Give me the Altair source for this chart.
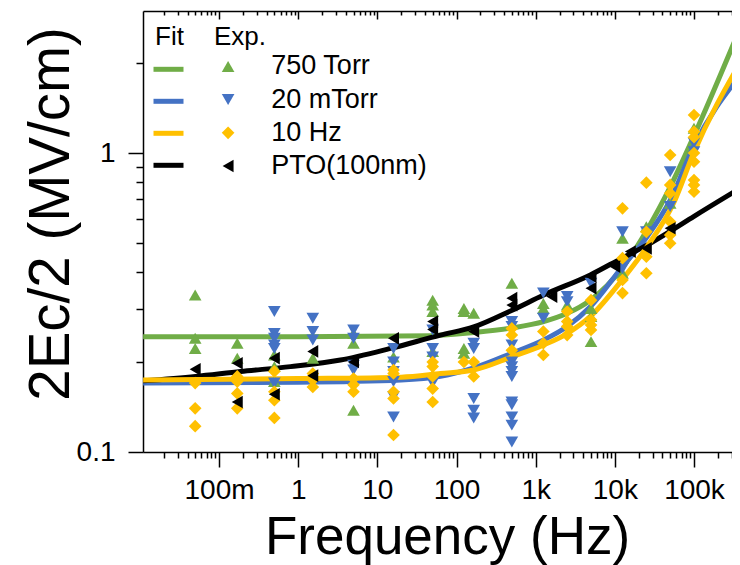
import altair as alt
import pandas as pd

FONT = "Liberation Sans"

SERIES = ["750 Torr", "20 mTorr", "10 Hz", "PTO(100nm)"]
COLORS = ["#70AD47", "#4472C4", "#FFC000", "#000000"]
SHAPES = ["triangle-up", "triangle-down", "diamond", "triangle-left"]

X_DOMAIN = [0.01096, 302000]
Y_DOMAIN = [0.1, 2.985]
X_MAJOR = [0.1, 1, 10, 100, 1000, 10000, 100000]
X_MINOR = [m * 10 ** k for k in range(-2, 6) for m in range(2, 10) if m * 10 ** k < 302000]
Y_MAJOR = [0.1, 1]
Y_MINOR = [0.2, 0.3, 0.4, 0.5, 0.6, 0.7, 0.8, 0.9, 2]

# ---- fit curves ----
fit_750_f = [0.011, 1, 50, 165, 500, 1260, 2500, 4900, 12300, 25500, 50300, 98900, 381000]
fit_750_v = [0.243, 0.243, 0.245, 0.251, 0.260, 0.273, 0.291, 0.322, 0.411, 0.553, 0.772, 1.134, 2.61]

fit_20m_f = [0.011, 1, 20, 62.6, 165, 500, 1260, 2500, 4900, 12300, 25500, 50300, 98900, 381000]
fit_20m_v = [0.170, 0.171, 0.174, 0.179, 0.191, 0.214, 0.237, 0.263, 0.306, 0.415, 0.525, 0.697, 1.05, 1.82]

fit_10hz_f = [0.011, 1, 20, 62.6, 165, 500, 1260, 2500, 4900, 12300, 25500, 55200, 98900, 381000]
fit_10hz_v = [0.174, 0.176, 0.178, 0.183, 0.188, 0.208, 0.228, 0.249, 0.284, 0.376, 0.486, 0.679, 1.0, 2.0]

fit_pto_f = [0.011, 0.0505, 0.187, 0.80, 3.42, 14.6, 62.6, 165, 503, 1260, 4900, 12300, 25500, 50300, 98900, 381000]
fit_pto_v = [0.173, 0.179, 0.186, 0.193, 0.203, 0.222, 0.246, 0.262, 0.298, 0.335, 0.391, 0.445, 0.492, 0.548, 0.613, 0.762]

# ---- experimental points: (frequency, values) ----
exp_750 = [
    (0.05, [0.335, 0.240, 0.222]),
    (0.17, [0.231, 0.206]),
    (0.5, [0.211, 0.193, 0.172]),
    (1.53, [0.206]),
    (5, [0.249, 0.231, 0.138]),
    (16, [0.208]),
    (50, [0.322, 0.310, 0.295, 0.217]),
    (124, [0.302, 0.295, 0.222, 0.214]),
    (165, [0.291]),
    (500, [0.367]),
    (1250, [0.314, 0.302]),
    (2500, [0.310]),
    (5000, [0.302, 0.284, 0.234]),
    (12500, [0.519, 0.396]),
    (25000, [0.567]),
    (50000, [0.679]),
    (100000, [1.21]),
]
exp_20m = [
    (0.5, [0.295, 0.249, 0.240, 0.228, 0.222, 0.170]),
    (1.53, [0.280, 0.253, 0.237]),
    (5, [0.256, 0.240, 0.195, 0.188]),
    (16, [0.222, 0.200, 0.186, 0.172, 0.153, 0.131]),
    (50, [0.256, 0.222, 0.208, 0.170]),
    (165, [0.231, 0.222, 0.151, 0.138, 0.130]),
    (500, [0.273, 0.263, 0.228, 0.200, 0.193, 0.186, 0.179, 0.147, 0.144, 0.131, 0.123, 0.108]),
    (1250, [0.340, 0.280]),
    (2500, [0.331, 0.318]),
    (5000, [0.367]),
    (12500, [0.545, 0.411]),
    (25000, [0.545]),
    (50000, [0.866, 0.662]),
    (100000, [1.08, 1.01]),
]
exp_10hz = [
    (0.05, [0.170, 0.140, 0.122]),
    (0.17, [0.179, 0.172, 0.157, 0.140]),
    (0.5, [0.186, 0.159, 0.149, 0.130]),
    (1.53, [0.183, 0.174, 0.165]),
    (5, [0.176, 0.168, 0.159]),
    (16, [0.188, 0.183, 0.159, 0.151, 0.114]),
    (50, [0.200, 0.193, 0.179, 0.163, 0.147]),
    (124, [0.200]),
    (165, [0.200, 0.179]),
    (500, [0.259, 0.246, 0.219]),
    (1250, [0.253, 0.231, 0.211]),
    (2500, [0.295, 0.273, 0.263, 0.246]),
    (5000, [0.322, 0.277, 0.266, 0.256]),
    (12500, [0.653, 0.445, 0.376, 0.340]),
    (25000, [0.796, 0.545, 0.450, 0.396]),
    (50000, [0.985, 0.782, 0.733, 0.589, 0.532, 0.499]),
    (100000, [1.34, 1.18, 1.13, 1.0, 0.935, 0.812, 0.782, 0.742]),
]
exp_pto = [
    (0.05, [0.189]),
    (0.17, [0.198, 0.147]),
    (0.5, [0.206, 0.156]),
    (1.53, [0.217, 0.180]),
    (5, [0.200]),
    (16, [0.240]),
    (50, [0.273, 0.257]),
    (165, [0.253]),
    (500, [0.327, 0.310]),
    (1600, [0.331]),
    (5000, [0.386, 0.353]),
    (10000, [0.417]),
    (15700, [0.468]),
    (25000, [0.480]),
    (50000, [0.560]),
]

# ---- tables ----
fit_rows = []
for name, fs, vs in [("750 Torr", fit_750_f, fit_750_v), ("20 mTorr", fit_20m_f, fit_20m_v),
                     ("PTO(100nm)", fit_pto_f, fit_pto_v), ("10 Hz", fit_10hz_f, fit_10hz_v)]:
    for f, v in zip(fs, vs):
        fit_rows.append({"freq": f, "val": v, "series": name})
fit_df = pd.DataFrame(fit_rows)

exp_rows = []
for name, groups in [("750 Torr", exp_750), ("20 mTorr", exp_20m), ("10 Hz", exp_10hz), ("PTO(100nm)", exp_pto)]:
    for f, vals in groups:
        for v in vals:
            exp_rows.append({"freq": f, "val": v, "series": name})
exp_df = pd.DataFrame(exp_rows)

W, H = 589, 441
xs = alt.Scale(type="log", domain=X_DOMAIN, nice=False)
ys = alt.Scale(type="log", domain=Y_DOMAIN, nice=False)

common_axis = dict(grid=False, tickColor="black", tickWidth=1.5, domainColor="black", domainWidth=1.5,
                   labelFont=FONT, labelColor="black", titleFont=FONT, titleColor="black",
                   titleFontWeight="normal")

x_major = alt.Axis(orient="bottom", values=X_MAJOR, format="~s", tickSize=15, labelFontSize=28,
                   labelPadding=9, labelFlush=False, labelOverlap=False, title="Frequency (Hz)",
                   titleFontSize=53, titleX=304, titleY=101, titleAlign="center",
                   titleBaseline="alphabetic", **common_axis)
x_minor = alt.Axis(orient="bottom", values=X_MINOR, tickSize=6, labels=False, domain=False,
                   title=None, **common_axis)
x_top_major = alt.Axis(orient="bottom", offset=-H, values=X_MAJOR, tickSize=8, labels=False,
                       title=None, **common_axis)
x_top_minor = alt.Axis(orient="bottom", offset=-H, values=X_MINOR, tickSize=4, labels=False,
                       domain=False, title=None, **common_axis)
y_major = alt.Axis(orient="left", values=Y_MAJOR, format="~g", tickSize=15, labelFontSize=28,
                   labelPadding=13, labelOverlap=False, title="2Ec/2 (MV/cm)", titleFontSize=56.5,
                   titleAngle=270, titleX=-75, titleY=202.5, titleAlign="center",
                   titleBaseline="alphabetic", **common_axis)
y_minor = alt.Axis(orient="left", values=Y_MINOR, tickSize=7, labels=False, domain=False,
                   title=None, **common_axis)

legend_common = dict(orient="none", padding=0, titleFont=FONT, titleFontSize=26, titleFontWeight="normal",
                     titleColor="black", labelFont=FONT, labelFontSize=27, labelColor="black",
                     legendY=12.5)

fit_legend = alt.Legend(title="Fit", legendX=12, symbolType="stroke", symbolStrokeWidth=5,
                        symbolSize=900, symbolOffset=-4, labelExpr="''", rowPadding=1,
                        titlePadding=2.3, **legend_common)
exp_legend = alt.Legend(title="Exp.", legendX=71, symbolSize=160, symbolOffset=0.6, labelOffset=29.7,
                        symbolStrokeWidth=0, rowPadding=5.2, titlePadding=3.4, **legend_common)

lines = alt.Chart(fit_df).mark_line(strokeWidth=5, interpolate="monotone", clip=True).encode(
    x=alt.X("freq:Q", scale=xs, axis=x_major),
    y=alt.Y("val:Q", scale=ys, axis=y_major),
    color=alt.Color("series:N", scale=alt.Scale(domain=SERIES, range=COLORS), legend=fit_legend),
    detail="series:N",
)

points = alt.Chart(exp_df).mark_point(filled=True, size=160, opacity=1, clip=True).encode(
    x=alt.X("freq:Q", scale=xs, axis=x_minor),
    y=alt.Y("val:Q", scale=ys, axis=y_minor),
    color=alt.Color("series:N", scale=alt.Scale(domain=SERIES, range=COLORS), legend=exp_legend),
    shape=alt.Shape("series:N", scale=alt.Scale(domain=SERIES, range=SHAPES), legend=exp_legend),
)

top1 = alt.Chart(fit_df).mark_point(opacity=0).encode(
    x=alt.X("freq:Q", scale=xs, axis=x_top_major),
    y=alt.Y("val:Q", scale=ys, axis=None),
)
top2 = alt.Chart(fit_df).mark_point(opacity=0).encode(
    x=alt.X("freq:Q", scale=xs, axis=x_top_minor),
    y=alt.Y("val:Q", scale=ys, axis=None),
)

chart = alt.layer(lines, points, top1, top2).resolve_scale(
    color="independent", shape="independent"
).resolve_axis(x="independent", y="independent").properties(
    width=W, height=H,
    autosize=alt.AutoSizeParams(type="none"),
    padding={"left": 135, "top": 3, "right": 0, "bottom": 113},
    background="white",
).configure_view(stroke=None)

chart.save("out.html", embed_options={"renderer": "svg", "actions": False})
